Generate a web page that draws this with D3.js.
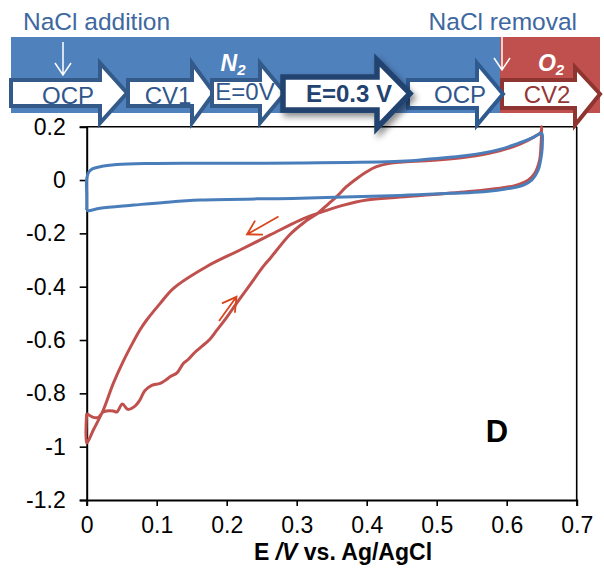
<!DOCTYPE html>
<html>
<head>
<meta charset="utf-8">
<script src="https://cdn.jsdelivr.net/npm/d3@7"></script>
<style>
  body { margin: 0; background: #fff; }
  svg { display: block; }
  text { font-family: "Liberation Sans", Arial, sans-serif; }
</style>
</head>
<body>
<svg id="chart" width="604" height="569"></svg>
<script>
// Axis ticks
const xTicks = [0, 0.1, 0.2, 0.3, 0.4, 0.5, 0.6, 0.7];
const xTickLabels = ["0", "0.1", "0.2", "0.3", "0.4", "0.5", "0.6", "0.7"];
const yTicks = [-1.2, -1, -0.8, -0.6, -0.4, -0.2, 0, 0.2];
const yTickLabels = ["-1.2", "-1", "-0.8", "-0.6", "-0.4", "-0.2", "0", "0.2"];

// CV1 recorded under N2 (potential / V, current)
const cv1Potential = [0, 0, 0, 0.003, 0.008, 0.019, 0.043, 0.09, 0.162, 0.305, 0.448, 0.495, 0.543, 0.59, 0.619, 0.638, 0.65,
  0.651, 0.65, 0.645, 0.636, 0.624, 0.605, 0.567, 0.519, 0.448, 0.305, 0.162, 0.114, 0.067, 0.019, 0.002, 0];
const cv1Current = [-0.1125, -0.06, 0.006, 0.03, 0.042, 0.05, 0.058, 0.062, 0.063, 0.064, 0.070, 0.080, 0.092, 0.115, 0.14, 0.16, 0.175,
  0.14, 0.10, 0.0375, 0.0, -0.019, -0.031, -0.044, -0.05, -0.058, -0.068, -0.075, -0.083, -0.094, -0.106, -0.115, -0.1125];

// CV2 recorded under O2 after NaCl removal
const cv2Potential = [0, 0.0095, 0.0167, 0.0238, 0.038, 0.043, 0.051, 0.0586, 0.069, 0.076, 0.083, 0.093, 0.105, 0.114, 0.119,
  0.129, 0.138, 0.145, 0.155, 0.164, 0.176, 0.186, 0.2, 0.214, 0.233, 0.252, 0.262, 0.29, 0.31, 0.331, 0.345, 0.357, 0.371,
  0.386, 0.4, 0.414, 0.433, 0.448, 0.495, 0.543, 0.59, 0.619, 0.638, 0.649, 0.65,
  0.649, 0.647, 0.64, 0.631, 0.614, 0.59, 0.543, 0.448, 0.4, 0.367, 0.333, 0.305, 0.262, 0.219, 0.171, 0.124, 0.105, 0.0857,
  0.076, 0.0667, 0.052, 0.038, 0.0237, 0.0095, 0, 0];
const cv2Current = [-0.875, -0.89, -0.89, -0.87, -0.866, -0.87, -0.84, -0.86, -0.848, -0.825, -0.79, -0.77, -0.763, -0.748, -0.738,
  -0.723, -0.688, -0.673, -0.645, -0.625, -0.597, -0.563, -0.515, -0.4625, -0.394, -0.325, -0.294, -0.205, -0.16, -0.1225, -0.09, -0.0625, -0.025,
  0.006, 0.031, 0.05, 0.0625, 0.067, 0.074, 0.086, 0.11, 0.135, 0.16, 0.18, 0.2,
  0.13, 0.075, 0.025, 0.0, -0.019, -0.031, -0.044, -0.064, -0.075, -0.094, -0.1225, -0.15, -0.206, -0.2625, -0.325, -0.406, -0.4625, -0.525,
  -0.5625, -0.606, -0.681, -0.7625, -0.8625, -0.9375, -0.987, -0.875];

// Sweep direction markers on CV2: tail potential, tail current, tip potential, tip current
const sweepTailE = [0.274, 0.189];
const sweepTailI = [-0.137, -0.529];
const sweepTipE = [0.229, 0.214];
const sweepTipI = [-0.204, -0.438];

// Experimental protocol
const stepLabels = ["OCP", "CV1", "E=0V", "E=0.3 V", "OCP", "CV2"];
const stepGas = ["N", "N", "N", "N", "N", "O"];

const svg = d3.select("#chart");

const x = d3.scaleLinear().domain([0, 0.7]).range([86.7, 576.7]);
const y = d3.scaleLinear().domain([-1.2, 0.2]).range([500, 126.7]);

const font = '"Liberation Sans", Arial, sans-serif';

// ---------- plot frame ----------
const plot = svg.append("g");
plot.append("line").attr("x1", x(0)).attr("x2", x(0.7)).attr("y1", y(0.2)).attr("y2", y(0.2))
  .attr("stroke", "#000").attr("stroke-width", 1.6);
plot.append("line").attr("x1", x(0.7)).attr("x2", x(0.7)).attr("y1", y(0.2)).attr("y2", y(-1.2))
  .attr("stroke", "#000").attr("stroke-width", 1.6);

const yAxis = d3.axisLeft(y).tickValues(yTicks).tickSize(7).tickPadding(14)
  .tickFormat((d, i) => yTickLabels[i]);
const gy = plot.append("g").attr("transform", `translate(${x(0)},0)`).call(yAxis);
const xAxis = d3.axisBottom(x).tickValues(xTicks).tickSize(6).tickPadding(11)
  .tickFormat((d, i) => xTickLabels[i]);
const gx = plot.append("g").attr("transform", `translate(0,${y(-1.2)})`).call(xAxis);

[gx, gy].forEach(g => {
  g.select(".domain").attr("stroke", "#000").attr("stroke-width", 2);
  g.selectAll(".tick line").attr("stroke", "#000").attr("stroke-width", 1.6);
  g.selectAll(".tick text").attr("fill", "#000").style("font-family", font).style("font-size", "23px");
});

// axis title
const title = plot.append("text")
  .attr("x", 343).attr("y", 560).attr("text-anchor", "middle")
  .style("font-size", "23px").style("font-weight", "bold").attr("fill", "#000");
title.append("tspan").text("E ");
title.append("tspan").style("font-style", "italic").text("/V");
title.append("tspan").text(" vs. Ag/AgCl");

// panel letter
plot.append("text").attr("x", 497).attr("y", 442).attr("text-anchor", "middle")
  .style("font-size", "31px").style("font-weight", "bold").attr("fill", "#000").text("D");

// ---------- voltammograms ----------
const line = d3.line().x(d => x(d[0])).y(d => y(d[1])).curve(d3.curveCatmullRom.alpha(0.5));

const cv2 = cv2Potential.map((e, i) => [e, cv2Current[i]]);
const cv1 = cv1Potential.map((e, i) => [e, cv1Current[i]]);

plot.append("path").datum(cv2).attr("d", line)
  .attr("fill", "none").attr("stroke", "#C0504D").attr("stroke-width", 3)
  .attr("stroke-linejoin", "round");
plot.append("path").datum(cv1).attr("d", line)
  .attr("fill", "none").attr("stroke", "#4A7EBB").attr("stroke-width", 3)
  .attr("stroke-linejoin", "round");

// sweep direction arrows
sweepTailE.forEach((_, i) => {
  const tx = x(sweepTailE[i]), ty = y(sweepTailI[i]);
  const px = x(sweepTipE[i]), py = y(sweepTipI[i]);
  const ang = Math.atan2(ty - py, tx - px);
  const len = 16, spread = Math.PI / 6;
  const h1 = [px + len * Math.cos(ang - spread), py + len * Math.sin(ang - spread)];
  const h2 = [px + len * Math.cos(ang + spread), py + len * Math.sin(ang + spread)];
  plot.append("path")
    .attr("d", `M${tx},${ty}L${px},${py}M${h1[0]},${h1[1]}L${px},${py}L${h2[0]},${h2[1]}`)
    .attr("fill", "none").attr("stroke", "#D9461B").attr("stroke-width", 1.8);
});

// ---------- protocol banner ----------
const banner = svg.append("g");
const defs = svg.append("defs");
const shadow = defs.append("filter").attr("id", "shadow")
  .attr("x", "-20%").attr("y", "-30%").attr("width", "150%").attr("height", "180%");
shadow.append("feDropShadow").attr("dx", 3).attr("dy", 4).attr("stdDeviation", 3)
  .attr("flood-color", "#000").attr("flood-opacity", 0.45);

banner.append("rect").attr("x", 11).attr("y", 37).attr("width", 489).attr("height", 76).attr("fill", "#4F81BD");
banner.append("rect").attr("x", 500).attr("y", 37).attr("width", 100).attr("height", 76).attr("fill", "#C0504D");

banner.append("text").attr("x", 23).attr("y", 30).style("font-size", "24.5px")
  .attr("fill", "#3D68A0").text("NaCl addition");
banner.append("text").attr("x", 577).attr("y", 30).attr("text-anchor", "end").style("font-size", "24.5px")
  .attr("fill", "#3D68A0").text("NaCl removal");

// white markers for the NaCl events
function downArrow(cx, y0, y1) {
  banner.append("path")
    .attr("d", `M${cx},${y0}L${cx},${y1}M${cx - 8},${y1 - 12}L${cx},${y1}L${cx + 8},${y1 - 12}`)
    .attr("fill", "none").attr("stroke", "#fff").attr("stroke-width", 1.5);
}
downArrow(63, 42, 75);
downArrow(502, 37, 70);

// gas labels
function gasLabel(cx, letter) {
  const t = banner.append("text").attr("x", cx).attr("y", 71).attr("text-anchor", "middle")
    .attr("fill", "#fff").style("font-weight", "bold").style("font-style", "italic");
  t.append("tspan").style("font-size", "23px").text(letter);
  t.append("tspan").attr("dy", 4).style("font-size", "15px").text("2");
}
gasLabel(233, stepGas[0]);
gasLabel(551, stepGas[5]);

// block arrows for each protocol step
const stepShapes = [
  { x0: 11, neck: 100, tip: 127, bt: 80, bb: 106, ht: 63, hb: 123, stroke: "#345A8A", sw: 4, fill: "#fff", color: "#30578C", bold: false, tx: 68, ty: 104 },
  { x0: 128, neck: 192, tip: 214, bt: 80, bb: 106, ht: 63, hb: 123, stroke: "#345A8A", sw: 4, fill: "#fff", color: "#30578C", bold: false, tx: 168, ty: 104 },
  { x0: 212, neck: 260, tip: 285, bt: 80, bb: 106, ht: 63, hb: 123, stroke: "#345A8A", sw: 4, fill: "#fff", color: "#30578C", bold: false, tx: 245, ty: 100 },
  { x0: 283, neck: 377, tip: 410, bt: 77, bb: 110, ht: 60, hb: 128, stroke: "#22436F", sw: 5.5, fill: "#fff", color: "#22436F", bold: true, tx: 349, ty: 102, shadow: true },
  { x0: 408, neck: 477, tip: 503, bt: 80, bb: 108, ht: 63, hb: 125, stroke: "#2F5A90", sw: 4, fill: "#fff", color: "#30578C", bold: false, tx: 460, ty: 103 },
  { x0: 502, neck: 575, tip: 600, bt: 80, bb: 108, ht: 67, hb: 125, stroke: "#8E3431", sw: 4, fill: "#fff", color: "#953735", bold: false, tx: 547, ty: 103 }
];
const drawOrder = [0, 1, 2, 5, 4, 3];

drawOrder.forEach(i => {
  const s = stepShapes[i];
  const mid = (s.bt + s.bb) / 2;
  const pts = [[s.x0, s.bt], [s.neck, s.bt], [s.neck, s.ht], [s.tip, mid], [s.neck, s.hb], [s.neck, s.bb], [s.x0, s.bb]];
  const g = banner.append("g");
  const p = g.append("path").attr("d", d3.line()(pts) + "Z")
    .attr("fill", s.fill).attr("stroke", s.stroke).attr("stroke-width", s.sw).attr("stroke-linejoin", "miter");
  if (s.shadow) p.attr("filter", "url(#shadow)");
  g.append("text").attr("x", s.tx).attr("y", s.ty).attr("text-anchor", "middle")
    .style("font-size", "24px").style("font-weight", s.bold ? "bold" : "normal")
    .attr("fill", s.color).text(stepLabels[i]);
});
</script>
</body>
</html>
